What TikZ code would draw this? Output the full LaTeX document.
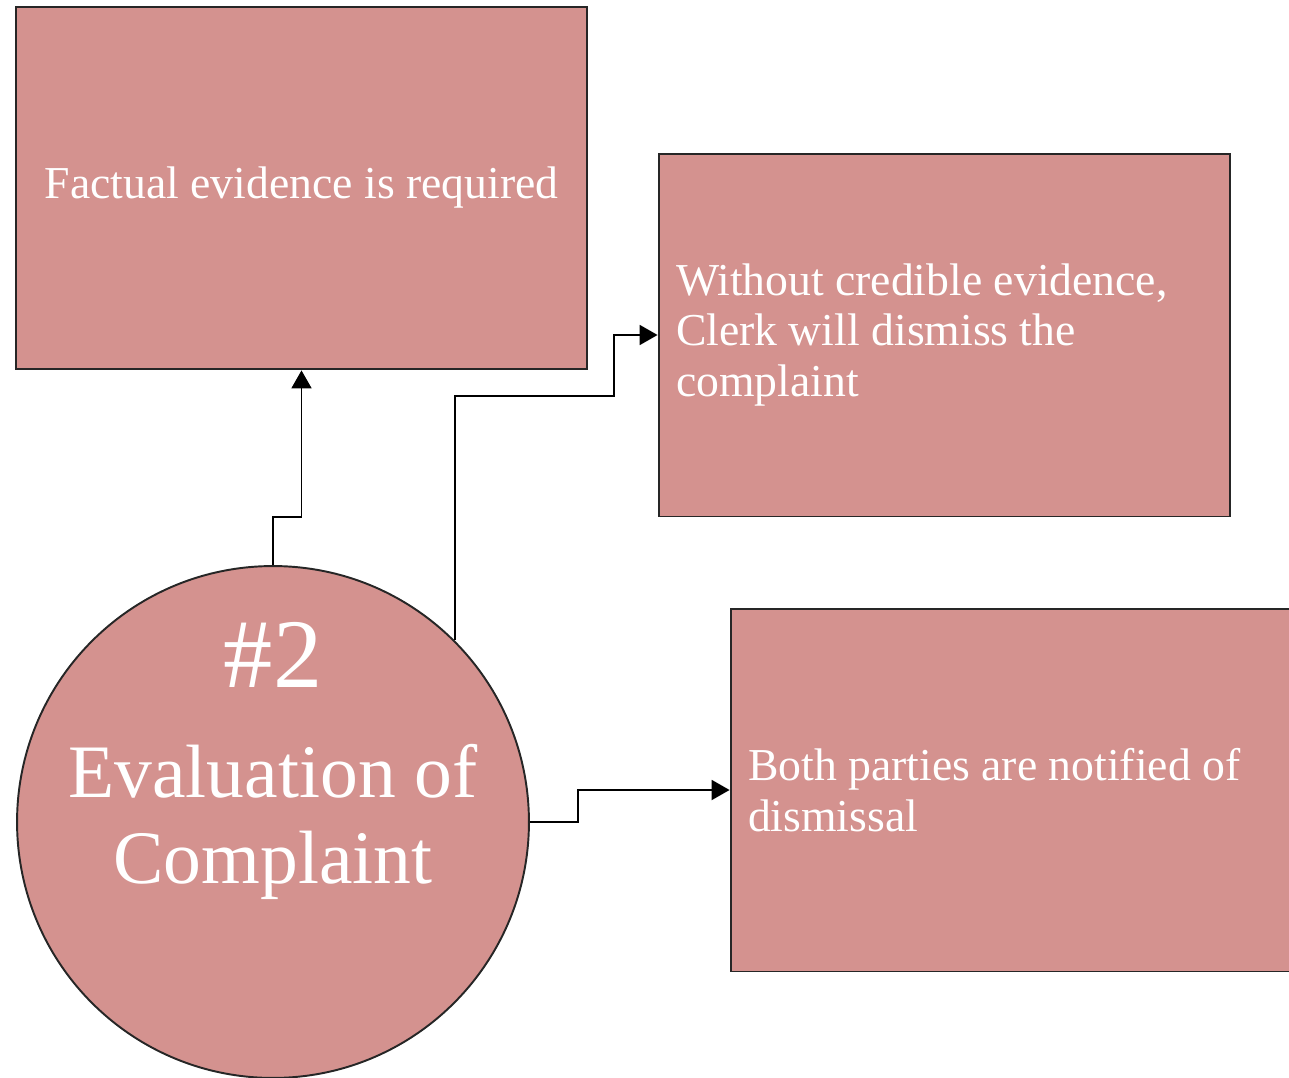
\documentclass[tikz,border=0pt]{standalone}
\usepackage{fontspec}
\setmainfont{Liberation Serif}
\usepackage{tikz}
\usetikzlibrary{arrows.meta, positioning, shapes.geometric}
\definecolor{evalpink}{RGB}{212,146,143}

\begin{document}
\begin{tikzpicture}[x=0.02cm, y=-0.02cm,
  stepbox/.style={draw=black!85, line width=1.1pt, fill=evalpink, text=white, minimum width=11.44cm, minimum height=7.26cm, inner xsep=0.34cm, font=\fontsize{26}{29}\selectfont},
  link/.style={-{Triangle[length=0.36cm, width=0.4cm]}, line width=1.1pt}
]
  \useasboundingbox (0,0) rectangle (1289,1078);
  % Evaluation circle
  \node[circle, draw=black!85, line width=1.1pt, fill=evalpink, minimum size=10.24cm, inner sep=0pt, text=white, align=center, font=\fontsize{43}{49}\selectfont] (eval) at (273,822) {Evaluation of\\Complaint};
  \node[text=white, font=\fontsize{56}{60}\selectfont] (evalnum) at (273,655) {\#2};

  % Outcome boxes
  \node[stepbox, align=center] (factual) at (301.5,188) {Factual evidence is required};
  \node[stepbox, text width=10.74cm, align=flush left] (dismiss) at (944.5,335) {Without credible evidence,\\Clerk will dismiss the\\complaint};
  \node[stepbox, text width=10.74cm, align=flush left] (notify) at (1016.5,790) {Both parties are notified of\\dismissal};

  % Connectors
  \coordinate (jogA) at (273,517);
  \coordinate (jogB) at (614,396);
  \coordinate (jogC) at (578,790);
  \draw[link] (eval.north) -- (jogA) -| (factual.south);
  \draw[link] (eval.45) |- (jogB) |- (dismiss.west);
  \draw[link] (eval.east) -| (jogC) |- (notify.west);
\end{tikzpicture}
\end{document}
